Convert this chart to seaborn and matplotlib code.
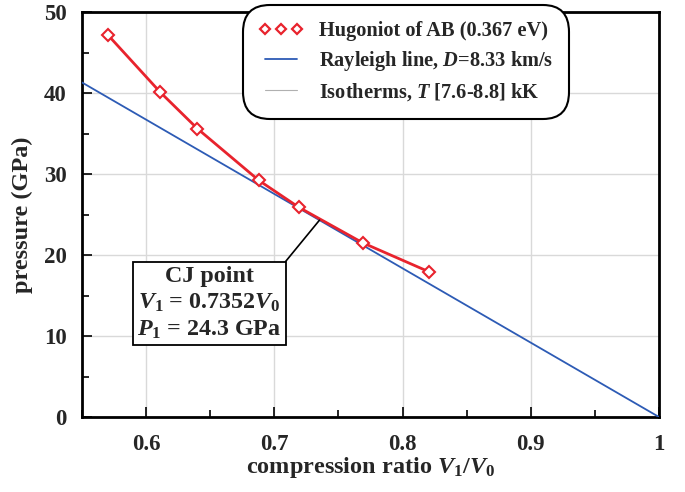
import matplotlib
matplotlib.use("Agg")
import matplotlib.pyplot as plt
from matplotlib.lines import Line2D
from matplotlib.ticker import MultipleLocator, FuncFormatter
import seaborn as sns
import pandas as pd

# Data
hug_ratio = [0.570, 0.611, 0.640, 0.688, 0.719, 0.769, 0.821]
hug_pressure = [47.2, 40.1, 35.6, 29.2, 25.9, 21.5, 17.9]
ray_ratio = [0.55, 1.0]
ray_pressure = [41.3, 0.0]
cj_ratio = 0.7352
cj_pressure = 24.3

sns.set_theme(style="white")
plt.rcParams['font.family'] = ['Liberation Serif', 'DejaVu Serif']
plt.rcParams['font.weight'] = 'bold'
plt.rcParams['mathtext.fontset'] = 'custom'
plt.rcParams['mathtext.rm'] = 'Liberation Serif:bold'
plt.rcParams['mathtext.bf'] = 'Liberation Serif:bold'
plt.rcParams['mathtext.it'] = 'Liberation Serif:bold:italic'

red = '#e8232d'
blue = '#2d5bb5'

fig = plt.figure(figsize=(6.85, 4.92), dpi=100)
ax = fig.add_axes([82/685, 75/492, (659-82)/685, (417-12)/492])

hug = pd.DataFrame({'ratio': hug_ratio, 'pressure': hug_pressure})
ray = pd.DataFrame({'ratio': ray_ratio, 'pressure': ray_pressure})

sns.lineplot(data=ray, x='ratio', y='pressure', ax=ax, color=blue, lw=1.3, zorder=3)
sns.lineplot(data=hug, x='ratio', y='pressure', ax=ax, color=red, lw=2.0,
             marker='D', markersize=6, markerfacecolor='white',
             markeredgecolor=red, markeredgewidth=1.5, zorder=4)

ax.set_xlim(0.55, 1.0)
ax.set_ylim(0, 50)
ax.xaxis.set_major_locator(MultipleLocator(0.1))
ax.xaxis.set_minor_locator(MultipleLocator(0.05))
ax.yaxis.set_major_locator(MultipleLocator(10))
ax.yaxis.set_minor_locator(MultipleLocator(5))
ax.xaxis.set_major_formatter(FuncFormatter(lambda v, p: '1' if abs(v-1) < 1e-9 else f'{v:.1f}'))
ax.grid(True, which='major', color='#d9d9d9', lw=1.0, zorder=0)
ax.set_axisbelow(True)
for s in ax.spines.values():
    s.set_linewidth(2.0)
    s.set_color('black')
ax.tick_params(which='both', direction='in', bottom=True, left=True, top=False, right=False,
               width=1.2, labelsize=16.5, color='black')
ax.tick_params(which='major', length=7)
ax.tick_params(which='minor', length=5)
ax.tick_params(axis='x', pad=12)
ax.tick_params(axis='y', pad=11)
for lab in ax.get_xticklabels() + ax.get_yticklabels():
    lab.set_fontweight('bold')

ax.set_xlabel(r'compression ratio $V_1$/$V_0$', fontsize=17.5, fontweight='bold', labelpad=0)
ax.set_ylabel('pressure (GPa)', fontsize=17.5, fontweight='bold', labelpad=8)

# Annotation
ax.annotate('CJ point\n' + r'$V_1$ = 0.7352$V_0$' + '\n' + r'$P_1$ = 24.3 GPa',
            xy=(cj_ratio, cj_pressure), xycoords='data',
            xytext=(0.6495, 14.0), textcoords='data',
            ha='center', va='center', fontsize=17.3, fontweight='bold',
            linespacing=1.27,
            bbox=dict(boxstyle='square,pad=0.18', fc='white', ec='black', lw=1.3),
            arrowprops=dict(arrowstyle='-', color='black', lw=1.2,
                            relpos=(1.0, 1.0), shrinkA=0, shrinkB=0),
            zorder=6)

handles = [
    Line2D([], [], ls='none', marker='D', markersize=5.5, markerfacecolor='white',
           markeredgecolor=red, markeredgewidth=1.6),
    Line2D([], [], color=blue, lw=1.3),
    Line2D([], [], color='#b0b0b0', lw=0.8),
]
labels = ['Hugoniot of AB (0.367 eV)', r'Rayleigh line, $D$=8.33 km/s',
          r'Isotherms, $T$ [7.6-8.8] kK']
leg = fig.legend(handles, labels, loc='upper left', bbox_to_anchor=(243/685, 1-5/492),
                 numpoints=3, handlelength=2.15, fontsize=14.7, frameon=True,
                 fancybox=True, edgecolor='black', framealpha=1, borderpad=0.8,
                 labelspacing=0.38, handletextpad=0.75, borderaxespad=0)
leg.get_frame().set_linewidth(1.5)
leg.get_frame().set_boxstyle('round,pad=0.0,rounding_size=1.3')
for t in leg.get_texts():
    t.set_fontweight('bold')
leg.set_zorder(10)

fig.savefig('out.png', dpi=100)
